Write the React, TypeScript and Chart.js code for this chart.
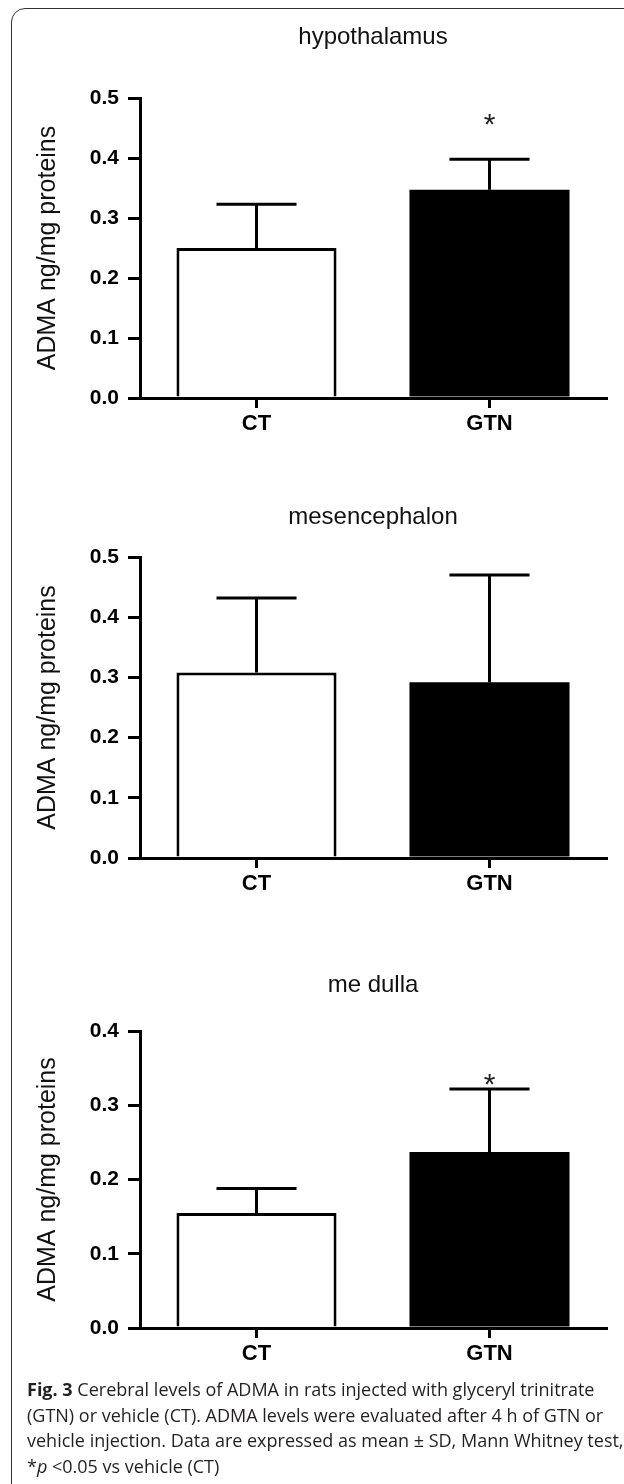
import React, { useEffect, useRef } from "react";
import { Chart, registerables } from "chart.js";
Chart.register(...registerables);

const categories = ["CT", "GTN"];
const hypothalamusMean = [0.25, 0.347];
const hypothalamusSD = [0.073, 0.051];
const hypothalamusStar = [null, 0.468];
const mesencephalonMean = [0.308, 0.292];
const mesencephalonSD = [0.124, 0.178];
const mesencephalonStar = [null, null];
const medullaMean = [0.155, 0.237];
const medullaSD = [0.033, 0.085];
const medullaStar = [null, 0.338];
const yTicksHalf = [0, 0.1, 0.2, 0.3, 0.4, 0.5];
const yTicksFour = [0, 0.1, 0.2, 0.3, 0.4];
const barFills = ["#ffffff", "#000000"];
const barBorders = [3, 0];
const yAxisTitle = "ADMA ng/mg proteins";

const FONT = "'Liberation Sans', Arial, sans-serif";

type PanelProps = {
  title: string;
  means: number[];
  sds: number[];
  stars: (number | null)[];
  ticks: number[];
  top: number;
  height: number;
  areaTop: number;
  areaBottom: number;
  titleY: number;
};

function Panel(p: PanelProps) {
  const ref = useRef<HTMLCanvasElement>(null);
  useEffect(() => {
    const xAxisH = 40;
    const plugin = {
      id: "errbars",
      afterDatasetsDraw(chart: any) {
        const ctx = chart.ctx;
        const meta = chart.getDatasetMeta(0);
        const ys = chart.scales.y;
        ctx.save();
        ctx.strokeStyle = "#000";
        ctx.lineWidth = 3;
        meta.data.forEach((bar: any, i: number) => {
          const x = bar.x;
          const w = bar.width;
          const y0 = ys.getPixelForValue(p.means[i]);
          const y1 = ys.getPixelForValue(p.means[i] + p.sds[i]);
          ctx.beginPath();
          ctx.moveTo(x, y0);
          ctx.lineTo(x, y1);
          ctx.moveTo(x - w * 0.25, y1);
          ctx.lineTo(x + w * 0.25, y1);
          ctx.stroke();
          const s = p.stars[i];
          if (s != null) {
            ctx.fillStyle = "#222";
            ctx.font = "30px " + FONT;
            ctx.textAlign = "center";
            ctx.textBaseline = "alphabetic";
            ctx.fillText("*", x, ys.getPixelForValue(s) + 17);
          }
        });
        ctx.fillStyle = "#111";
        ctx.font = "24px " + FONT;
        ctx.textAlign = "center";
        ctx.textBaseline = "middle";
        ctx.fillText(p.title, (chart.chartArea.left + chart.chartArea.right) / 2, p.titleY);
        ctx.restore();
      },
    };
    const chart = new Chart(ref.current as HTMLCanvasElement, {
      type: "bar",
      data: {
        labels: categories,
        datasets: [
          {
            data: p.means,
            backgroundColor: barFills,
            borderColor: "#000",
            borderWidth: barBorders,
            barPercentage: 0.687,
            categoryPercentage: 1,
          },
        ],
      },
      options: {
        animation: false,
        responsive: false,
        maintainAspectRatio: false,
        devicePixelRatio: 1,
        layout: {
          padding: {
            left: 0,
            right: 18,
            top: p.areaTop,
            bottom: p.height - p.areaBottom - xAxisH,
          },
        },
        plugins: {
          legend: { display: false },
          tooltip: { enabled: false },
          title: { display: false },
        },
        scales: {
          x: {
            type: "category",
            offset: true,
            grid: {
              display: true,
              drawOnChartArea: false,
              drawTicks: true,
              tickLength: 10,
              lineWidth: 3,
              color: "#000",
              offset: false,
            },
            border: { display: true, width: 3, color: "#000" },
            ticks: {
              color: "#000",
              font: { family: FONT, size: 22, weight: "bold" },
              padding: 3,
            },
            afterFit: (s: any) => {
              s.height = xAxisH;
            },
          },
          y: {
            min: 0,
            max: p.ticks[p.ticks.length - 1],
            afterBuildTicks: (s: any) => {
              s.ticks = p.ticks.map((v) => ({ value: v }));
            },
            grid: {
              display: true,
              drawOnChartArea: false,
              drawTicks: true,
              tickLength: 12,
              lineWidth: 3,
              color: "#000",
            },
            border: { display: true, width: 3, color: "#000" },
            ticks: {
              color: "#000",
              font: { family: FONT, size: 21, weight: "bold" },
              padding: 9,
              callback: (v: any) => Number(v).toFixed(1),
            },
            title: {
              display: true,
              text: yAxisTitle,
              color: "#111",
              font: { family: FONT, size: 25 },
              padding: { top: 33, bottom: 0 },
            },
            afterFit: (s: any) => {
              s.width = 140;
            },
          },
        },
      },
      plugins: [plugin],
    } as any);
    return () => chart.destroy();
  }, []);
  return (
    <canvas
      ref={ref}
      width={624}
      height={p.height}
      style={{ position: "absolute", left: 0, top: p.top, width: 624, height: p.height }}
    />
  );
}

export default function App() {
  useEffect(() => {
    document.body.style.margin = "0";
    document.body.style.overflow = "hidden";
  }, []);
  return (
    <div
      style={{
        position: "relative",
        width: 624,
        height: 1484,
        overflow: "hidden",
        background: "#fff",
      }}
    >
      <div
        style={{
          position: "absolute",
          left: 11,
          top: 8,
          width: 700,
          height: 1500,
          border: "1.5px solid #333",
          borderRadius: 14,
          boxSizing: "border-box",
        }}
      />
      <Panel
        title="hypothalamus"
        means={hypothalamusMean}
        sds={hypothalamusSD}
        stars={hypothalamusStar}
        ticks={yTicksHalf}
        top={0}
        height={450}
        areaTop={98}
        areaBottom={398}
        titleY={37}
      />
      <Panel
        title="mesencephalon"
        means={mesencephalonMean}
        sds={mesencephalonSD}
        stars={mesencephalonStar}
        ticks={yTicksHalf}
        top={460}
        height={450}
        areaTop={97}
        areaBottom={398}
        titleY={57}
      />
      <Panel
        title="me dulla"
        means={medullaMean}
        sds={medullaSD}
        stars={medullaStar}
        ticks={yTicksFour}
        top={930}
        height={450}
        areaTop={101}
        areaBottom={398}
        titleY={55}
      />
      <div
        style={{
          position: "absolute",
          left: 27,
          top: 1377,
          fontFamily: "'Open Sans', sans-serif",
          fontSize: 18,
          lineHeight: "25.7px",
          color: "#231f20",
          whiteSpace: "nowrap",
        }}
      >
        <b>Fig. 3</b> Cerebral levels of ADMA in rats injected with glyceryl trinitrate
        <br />
        (GTN) or vehicle (CT). ADMA levels were evaluated after 4 h of GTN or
        <br />
        vehicle injection. Data are expressed as mean ± SD, Mann Whitney test,
        <br />
        *<i>p</i> &lt;0.05 vs vehicle (CT)
      </div>
    </div>
  );
}
